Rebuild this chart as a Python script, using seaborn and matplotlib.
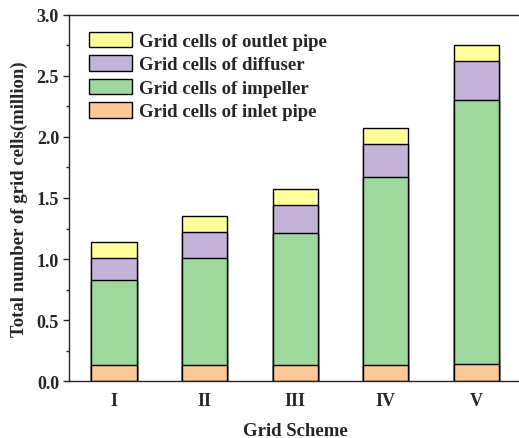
import matplotlib
matplotlib.use("Agg")
import matplotlib.pyplot as plt
import seaborn as sns
import pandas as pd
import numpy as np
from matplotlib.ticker import MultipleLocator

schemes = ["I", "II", "III", "IV", "V"]
inlet_pipe = [0.13, 0.13, 0.13, 0.135, 0.14]
impeller = [0.70, 0.88, 1.08, 1.535, 2.16]
diffuser = [0.18, 0.21, 0.23, 0.27, 0.32]
outlet_pipe = [0.13, 0.13, 0.13, 0.13, 0.13]

labels = ["Grid cells of inlet pipe", "Grid cells of impeller",
          "Grid cells of diffuser", "Grid cells of outlet pipe"]
colors = ["#FDC996", "#9ED89C", "#C3B3D8", "#FFFF99"]

sns.set_style("ticks")
plt.rcParams["font.family"] = ["Liberation Serif", "DejaVu Serif"]
plt.rcParams["font.weight"] = "bold"

df = pd.DataFrame({"scheme": schemes, "inlet": inlet_pipe, "impeller": impeller,
                   "diffuser": diffuser, "outlet": outlet_pipe})
layers = ["inlet", "impeller", "diffuser", "outlet"]
cum = df[layers].cumsum(axis=1)

fig = plt.figure(figsize=(5.19, 4.39), dpi=100)
ax = fig.add_axes([0.1325, 0.1298, 0.8725, 0.8338])

for layer, lab, col in reversed(list(zip(layers, labels, colors))):
    sns.barplot(x=df["scheme"], y=cum[layer], order=schemes, color=col,
                width=0.5, edgecolor="black", linewidth=1.0, ax=ax,
                saturation=1, label=lab)

ax.set_xlim(-0.5, 4.5)
ax.set_ylim(0, 3.0)
ax.yaxis.set_major_locator(MultipleLocator(0.5))
ax.yaxis.set_minor_locator(MultipleLocator(0.25))
ax.tick_params(axis="y", which="major", direction="out", length=4, width=1, labelsize=13, pad=3)
ax.tick_params(axis="y", which="minor", direction="out", length=2.5, width=1)
ax.tick_params(axis="x", length=0, labelsize=13, pad=8)
for s in ax.spines.values():
    s.set_linewidth(1.0)
    s.set_visible(True)

ax.set_xlabel("Grid Scheme", fontsize=13.5, fontweight="bold", labelpad=9)
ax.set_ylabel("Total number of grid cells(million)", fontsize=13.5, fontweight="bold", labelpad=6)
for t in ax.get_xticklabels() + ax.get_yticklabels():
    t.set_fontweight("bold")

h, l = ax.get_legend_handles_labels()
leg = ax.legend(h, l, loc="upper left", bbox_to_anchor=(0.02, 0.985), frameon=False,
                fontsize=13.5, handlelength=2.3, handleheight=0.9, labelspacing=0.28,
                handletextpad=0.37, borderaxespad=0.2)
for t in leg.get_texts():
    t.set_fontweight("bold")

fig.savefig("out.png", dpi=100)
